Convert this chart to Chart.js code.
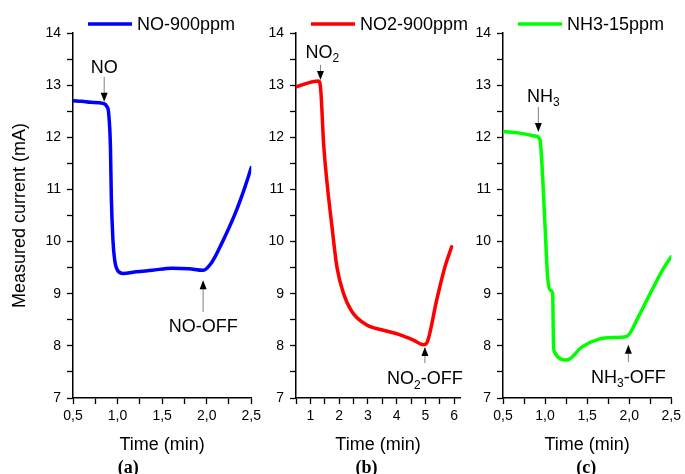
<!DOCTYPE html>
<html>
<head>
<meta charset="utf-8">
<script src="https://cdn.jsdelivr.net/npm/chart.js@4.4.1/dist/chart.umd.min.js"></script>
<style>
  html, body { margin: 0; padding: 0; background: #fff; }
  #wrap { position: relative; width: 685px; height: 474px; overflow: hidden; background: #fff; }
  canvas { position: absolute; top: 0; }
</style>
</head>
<body>
<div id="wrap">
  <canvas id="chartA" width="265" height="474" style="left:0px"></canvas>
  <canvas id="chartB" width="220" height="474" style="left:262px"></canvas>
  <canvas id="chartC" width="215" height="474" style="left:470px"></canvas>
</div>
<script>
// (a) NO-900ppm
const timeNO = [0.5, 0.6, 0.7, 0.837, 0.88, 0.90, 0.92, 0.93, 0.948, 0.967, 1.003, 1.06, 1.21, 1.39, 1.61, 1.80, 1.96, 2.06, 2.17, 2.32, 2.43, 2.5];
const currNO = [12.70, 12.69, 12.67, 12.65, 12.59, 12.46, 11.82, 10.86, 10.03, 9.65, 9.44, 9.39, 9.42, 9.45, 9.49, 9.48, 9.45, 9.61, 9.97, 10.54, 11.05, 11.42];

// (b) NO2-900ppm
const timeNO2 = [0.5, 1.29, 1.36, 1.46, 1.58, 1.75, 1.92, 2.15, 2.44, 2.96, 3.54, 4.12, 4.58, 4.93, 5.04, 5.39, 5.68, 5.91];
const currNO2 = [12.97, 13.08, 12.91, 11.88, 11.12, 10.29, 9.52, 9.01, 8.66, 8.40, 8.30, 8.21, 8.11, 8.02, 8.05, 8.88, 9.52, 9.90];

// (c) NH3-15ppm
const timeNH3 = [0.5, 0.70, 0.89, 0.94, 0.96, 1.00, 1.03, 1.06, 1.09, 1.10, 1.11, 1.26, 1.44, 1.64, 1.83, 1.97, 2.11, 2.27, 2.42, 2.5];
const currNH3 = [12.11, 12.08, 12.02, 11.95, 11.56, 10.29, 9.33, 9.07, 9.01, 8.05, 7.89, 7.73, 7.98, 8.13, 8.16, 8.18, 8.56, 9.07, 9.52, 9.71];

// axis ticks
const yMajor = [7, 8, 9, 10, 11, 12, 13, 14];
const yMinor = [7.5, 8.5, 9.5, 10.5, 11.5, 12.5, 13.5];
const xMajorShort = [0.5, 1.0, 1.5, 2.0, 2.5];
const xLabelsShort = ["0,5", "1,0", "1,5", "2,0", "2,5"];
const xMinorShort = [0.75, 1.25, 1.75, 2.25];
const xMajorLong = [1, 2, 3, 4, 5, 6];
const xLabelsLong = ["1", "2", "3", "4", "5", "6"];
const xMinorLong = [0.5, 1.5, 2.5, 3.5, 4.5, 5.5];

const FONT = "'Liberation Sans', Arial, sans-serif";

function drawLabel(ctx, text, cx, cy) {
    // "_" marks the next character as a subscript
    const parts = [];
    for (let i = 0; i < text.length; i++) {
        if (text[i] === "_") { parts.push({ s: text[i + 1], sub: true }); i++; }
        else if (parts.length && !parts[parts.length - 1].sub) parts[parts.length - 1].s += text[i];
        else parts.push({ s: text[i], sub: false });
    }
    const big = "18px " + FONT, small = "12px " + FONT;
    let w = 0;
    parts.forEach(p => { ctx.font = p.sub ? small : big; p.w = ctx.measureText(p.s).width; w += p.w; });
    let x = cx - w / 2;
    ctx.textAlign = "left";
    ctx.textBaseline = "middle";
    ctx.fillStyle = "#000";
    parts.forEach(p => {
        ctx.font = p.sub ? small : big;
        ctx.fillText(p.s, x, p.sub ? cy + 6 : cy);
        x += p.w;
    });
}

function drawArrow(ctx, x, y1, y2) {
    const dir = y2 > y1 ? 1 : -1;
    ctx.strokeStyle = "#808080";
    ctx.lineWidth = 1;
    ctx.beginPath();
    ctx.moveTo(x, y1);
    ctx.lineTo(x, y2 - dir * 6);
    ctx.stroke();
    ctx.fillStyle = "#000";
    ctx.beginPath();
    ctx.moveTo(x, y2);
    ctx.lineTo(x - 3.5, y2 - dir * 9);
    ctx.lineTo(x + 3.5, y2 - dir * 9);
    ctx.closePath();
    ctx.fill();
}

const panelDeco = {
    id: "panelDeco",
    afterDraw(chart, args, opts) {
        const ctx = chart.ctx;
        const xs = chart.scales.x, ys = chart.scales.y;
        const area = chart.chartArea;
        ctx.save();
        // legend
        const ly = area.top - 9;
        ctx.strokeStyle = opts.color;
        ctx.lineWidth = 3.5;
        ctx.beginPath();
        ctx.moveTo(area.left + 15, ly);
        ctx.lineTo(area.left + 59, ly);
        ctx.stroke();
        ctx.font = "18px " + FONT;
        ctx.fillStyle = "#000";
        ctx.textAlign = "left";
        ctx.textBaseline = "middle";
        ctx.fillText(opts.name, area.left + 64, ly + 1);
        // arrows and their labels
        opts.notes.forEach(n => {
            const px = xs.getPixelForValue(n.x);
            drawArrow(ctx, px, ys.getPixelForValue(n.from), ys.getPixelForValue(n.to));
            drawLabel(ctx, n.label, px + (n.dx || 0), ys.getPixelForValue(n.textY));
        });
        // panel tag
        ctx.font = "bold 18px 'Liberation Serif', 'Times New Roman', serif";
        ctx.textAlign = "center";
        ctx.textBaseline = "middle";
        ctx.fillStyle = "#000";
        ctx.fillText(opts.tag, xs.getPixelForValue(opts.tagX), chart.height - 6);
        ctx.restore();
    }
};

function buildPanel(id, p) {
    const ctx = document.getElementById(id).getContext("2d");
    const xTicks = p.xMajor.concat(p.xMinor).sort((a, b) => a - b);
    const yTicks = yMajor.concat(yMinor).sort((a, b) => a - b);
    return new Chart(ctx, {
        type: "line",
        data: {
            datasets: [{
                label: p.name,
                data: p.time.map((t, i) => ({ x: t, y: p.curr[i] })),
                borderColor: p.color,
                borderWidth: 3.5,
                pointRadius: 0,
                cubicInterpolationMode: "monotone",
                borderJoinStyle: "round",
                borderCapStyle: "round"
            }]
        },
        options: {
            responsive: false,
            animation: false,
            devicePixelRatio: 1,
            layout: { padding: { left: 0, right: p.padRight, top: 33, bottom: 0 } },
            plugins: {
                legend: { display: false },
                tooltip: { enabled: false },
                panelDeco: { name: p.name, color: p.color, notes: p.notes, tag: p.tag, tagX: p.tagX }
            },
            scales: {
                x: {
                    type: "linear",
                    min: p.xMin,
                    max: p.xMax,
                    afterBuildTicks: s => { s.ticks = xTicks.map(v => ({ value: v })); },
                    afterFit: s => { s.height = 76; },
                    ticks: {
                        autoSkip: false, maxRotation: 0, padding: 4, color: "#000",
                        font: { family: FONT, size: 14 },
                        callback: v => {
                            const k = p.xMajor.findIndex(m => Math.abs(m - v) < 1e-6);
                            return k >= 0 ? p.xLabels[k] : "";
                        }
                    },
                    grid: { drawOnChartArea: false, tickLength: 6, tickColor: "#000", tickWidth: 1.3 },
                    border: { color: "#000", width: 1.5 },
                    title: {
                        display: true, text: "Time (min)", color: "#000",
                        font: { family: FONT, size: 18 }, padding: { top: 0, bottom: 18 }
                    }
                },
                y: {
                    min: 7,
                    max: 14,
                    afterBuildTicks: s => { s.ticks = yTicks.map(v => ({ value: v })); },
                    afterFit: s => { s.width = p.yWidth; },
                    ticks: {
                        autoSkip: false, padding: 6, color: "#000",
                        font: { family: FONT, size: 14 },
                        callback: v => (yMajor.includes(v) ? String(v) : "")
                    },
                    grid: { drawOnChartArea: false, tickLength: 6, tickColor: "#000", tickWidth: 1.3 },
                    border: { color: "#000", width: 1.5 },
                    title: {
                        display: p.yTitle, text: "Measured current (mA)", color: "#000",
                        font: { family: FONT, size: 18 }, padding: { top: 9, bottom: 0 }
                    }
                }
            }
        },
        plugins: [panelDeco]
    });
}

buildPanel("chartA", {
    name: "NO-900ppm", color: "#0000ff", time: timeNO, curr: currNO,
    xMin: 0.5, xMax: 2.5, xMajor: xMajorShort, xLabels: xLabelsShort, xMinor: xMinorShort,
    yWidth: 73, padRight: 12, yTitle: true, tag: "(a)", tagX: 1.12,
    notes: [
        { label: "NO", x: 0.85, textY: 13.33, from: 13.16, to: 12.68 },
        { label: "NO-OFF", x: 1.96, textY: 8.36, from: 8.65, to: 9.26 }
    ]
});

buildPanel("chartB", {
    name: "NO2-900ppm", color: "#ff0000", time: timeNO2, curr: currNO2,
    xMin: 0.5, xMax: 6.2, xMajor: xMajorLong, xLabels: xLabelsLong, xMinor: xMinorLong,
    yWidth: 34, padRight: 22, yTitle: false, tag: "(b)", tagX: 2.95,
    notes: [
        { label: "NO_2", x: 1.35, textY: 13.62, from: 13.39, to: 13.10, dx: 2 },
        { label: "NO_2-OFF", x: 4.98, textY: 7.36, from: 7.67, to: 7.98 }
    ]
});

buildPanel("chartC", {
    name: "NH3-15ppm", color: "#00ff00", time: timeNH3, curr: currNH3,
    xMin: 0.5, xMax: 2.5, xMajor: xMajorShort, xLabels: xLabelsShort, xMinor: xMinorShort,
    yWidth: 33, padRight: 12, yTitle: false, tag: "(c)", tagX: 1.49,
    notes: [
        { label: "NH_3", x: 0.92, textY: 12.77, from: 12.58, to: 12.10, dx: 5 },
        { label: "NH_3-OFF", x: 1.99, textY: 7.38, from: 7.69, to: 8.02 }
    ]
});
</script>
</body>
</html>
